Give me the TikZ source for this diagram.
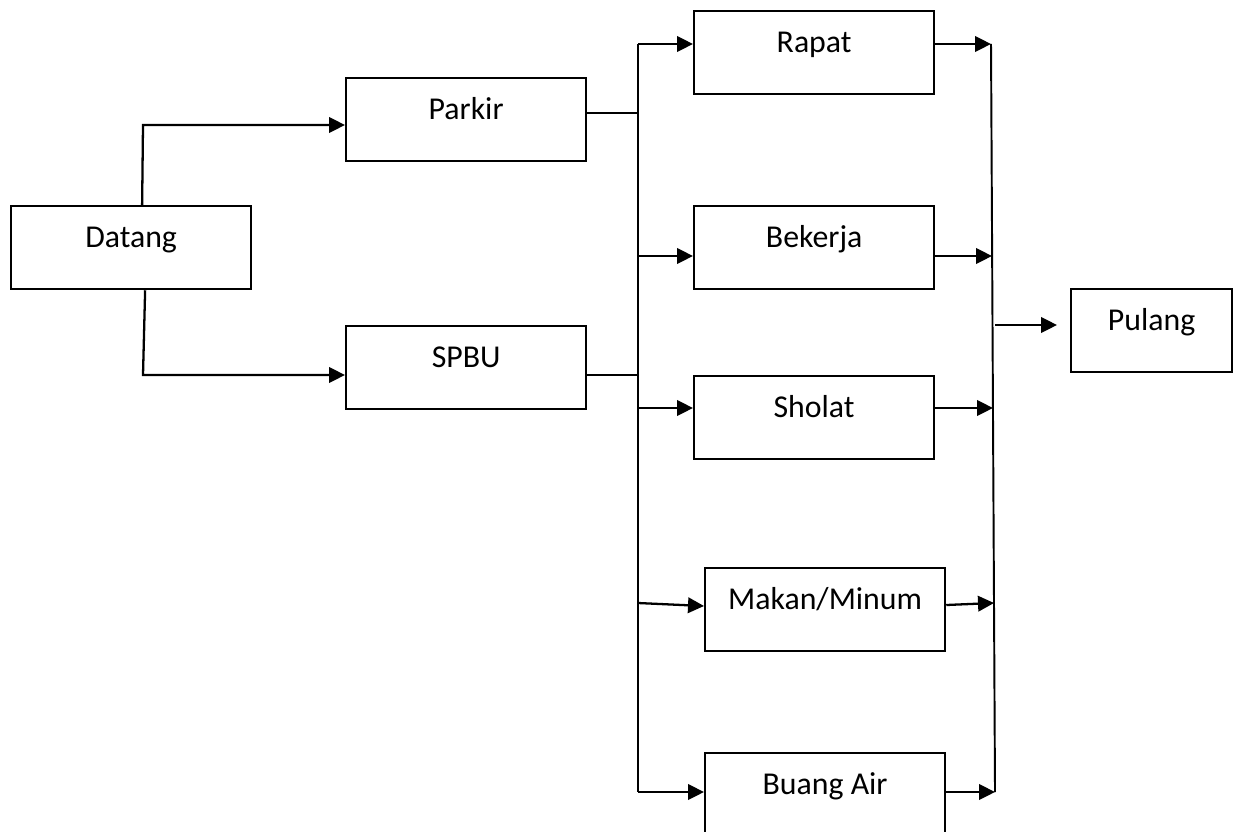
\documentclass[tikz,border=0pt]{standalone}
\usepackage{fontspec}
\setmainfont{Carlito}
\usetikzlibrary{arrows.meta,positioning}

\tikzset{
  box/.style={draw, line width=1.3pt, inner sep=0pt, anchor=north west,
    minimum width=4.8cm, text height=0.82cm, text depth=0.84cm,
    font=\fontsize{18.1pt}{21pt}\selectfont},
  arr/.style={-{Triangle[length=0.32cm,width=0.31cm]}, line width=1.3pt},
  bus/.style={line width=1.1pt}
}

\begin{document}
\begin{tikzpicture}[x=0.02cm, y=-0.02cm]
\useasboundingbox (0,0) rectangle (1239,831);

% Boxes
\node[box] (datang) at (10,205) {Datang};
\node[box] (parkir) at (345,77) {Parkir};
\node[box] (spbu) at (345,325) {SPBU};
\node[box] (rapat) at (693,10) {Rapat};
\node[box] (bekerja) at (693,205) {Bekerja};
\node[box] (sholat) at (693,375) {Sholat};
\node[box] (makan) at (704,567) {Makan/Minum};
\node[box] (buang) at (704,752) {Buang Air};
\node[box, minimum width=3.22cm] (pulang) at (1070,288) {Pulang};

% Bus lines
\coordinate (ltop) at (638,44);
\coordinate (lbot) at (638,792);
\coordinate (rtop) at (991,44);
\coordinate (rbot) at (995,792);
\draw[bus] (ltop) -- (lbot);
\draw[bus] (rtop) -- (rbot);

% Datang to Parkir and SPBU
\draw[arr] ([xshift=0.22cm]datang.north) -- (143,125) -- (parkir.west |- 0,125);
\draw[arr] ([xshift=0.28cm]datang.south) -- (143,375) -- (spbu.west |- 0,375);

% Into the left bus
\draw[bus] (parkir.east |- 0,113) -- (638,113);
\draw[bus] (spbu.east |- 0,375) -- (638,375);

% Left bus to activities
\draw[arr] (ltop) -- (rapat.west |- ltop);
\draw[arr] (638,256) -- (bekerja.west |- 0,256);
\draw[arr] (638,408) -- (sholat.west |- 0,408);
\draw[arr] (638,603) -- (makan.west |- 0,606);
\draw[arr] (lbot) -- (buang.west |- lbot);

% Activities to right bus
\draw[arr] (rapat.east |- rtop) -- (rtop);
\draw[arr] (bekerja.east |- 0,256) -- (992,256);
\draw[arr] (sholat.east |- 0,408) -- (993,408);
\draw[arr] (makan.east |- 0,605) -- (994,603);
\draw[arr] (buang.east |- rbot) -- (rbot);

% Right bus to Pulang
\draw[arr] (995,325) -- ([xshift=-0.26cm]pulang.west |- 0,325);
\end{tikzpicture}
\end{document}
